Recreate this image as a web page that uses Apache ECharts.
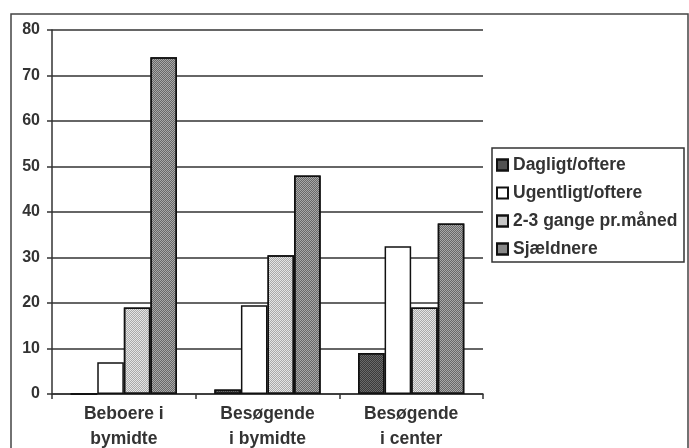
<!DOCTYPE html>
<html>
<head>
<meta charset="utf-8">
<script src="https://cdn.jsdelivr.net/npm/echarts@6/dist/echarts.min.js"></script>
<style>
  html, body { margin: 0; padding: 0; background: #fff; }
  #chart { width: 689px; height: 448px; }
</style>
</head>
<body>
<div id="chart"></div>
<script>
// Groups on the x axis
const categories = ['Beboere i\nbymidte', 'Besøgende\ni bymidte', 'Besøgende\ni center'];

// Share of respondents (%) per visit frequency
const dagligt = [0, 1, 9];
const ugentligt = [7, 19.5, 32.5];
const gangeMaaned = [19, 30.5, 19];
const sjaeldnere = [74, 48, 37.5];

const seriesNames = ['Dagligt/oftere', 'Ugentligt/oftere', '2-3 gange pr.måned', 'Sjældnere'];
const yTicks = [0, 10, 20, 30, 40, 50, 60, 70, 80];

const ink = '#333';
const labelFont = 'Liberation Sans, Arial, sans-serif';

// Stippled fills: a base grey with a fine dot pattern on top
function stipple(base, dot) {
  return {
    color: base,
    borderColor: '#111',
    borderWidth: 1.5,
    decal: {
      symbol: 'rect',
      symbolSize: 1,
      color: dot,
      dashArrayX: [[1, 1], [0, 1, 1, 0]],
      dashArrayY: [1, 0]
    }
  };
}

const styles = [
  stipple('#6a6a6a', 'rgba(20,20,20,0.55)'),
  { color: '#ffffff', borderColor: '#111', borderWidth: 1.5 },
  stipple('#e4e4e4', 'rgba(60,60,60,0.35)'),
  stipple('#a8a8a8', 'rgba(40,40,40,0.5)')
];

const values = [dagligt, ugentligt, gangeMaaned, sjaeldnere];

const chart = echarts.init(document.getElementById('chart'));
chart.setOption({
  animation: false,
  backgroundColor: '#fff',
  grid: { left: 52, right: 206, top: 30, bottom: 54, containLabel: false, outerBoundsMode: 'none' },
  graphic: [
    {
      // page frame
      type: 'rect',
      shape: { x: 11, y: 14, width: 677, height: 450 },
      style: { fill: 'none', stroke: '#444', lineWidth: 1.5 },
      z: -1
    },
    {
      // legend frame
      type: 'rect',
      shape: { x: 492, y: 148, width: 192, height: 114 },
      style: { fill: '#fff', stroke: ink, lineWidth: 1.5 },
      z: -1
    }
  ],
  legend: {
    orient: 'vertical',
    left: 492,
    top: 148,
    padding: [8, 4, 6, 4],
    itemGap: 10,
    itemWidth: 11,
    itemHeight: 11,
    icon: 'rect',
    selectedMode: false,
    textStyle: { fontFamily: labelFont, fontWeight: 'bold', fontSize: 17.5, color: ink, padding: [0, 0, 0, 0] },
    data: seriesNames
  },
  xAxis: {
    type: 'category',
    data: categories,
    axisLine: { lineStyle: { color: ink, width: 1.5 } },
    axisTick: { show: true, length: 5, lineStyle: { color: ink, width: 1.5 } },
    axisLabel: {
      margin: 8,
      fontFamily: labelFont,
      fontWeight: 'bold',
      fontSize: 17.5,
      lineHeight: 25,
      color: ink
    }
  },
  yAxis: {
    type: 'value',
    min: yTicks[0],
    max: yTicks[yTicks.length - 1],
    interval: 10,
    axisLine: { show: true, lineStyle: { color: ink, width: 1.5 } },
    axisTick: { show: true, length: 5, lineStyle: { color: ink, width: 1.5 } },
    splitLine: { lineStyle: { color: ink, width: 1.5 } },
    axisLabel: {
      margin: 12,
      fontFamily: labelFont,
      fontWeight: 'bold',
      fontSize: 16,
      color: ink
    }
  },
  series: seriesNames.map((name, i) => ({
    name: name,
    type: 'bar',
    data: values[i],
    barGap: '0%',
    barCategoryGap: '26%',
    itemStyle: styles[i]
  }))
});
</script>
</body>
</html>
